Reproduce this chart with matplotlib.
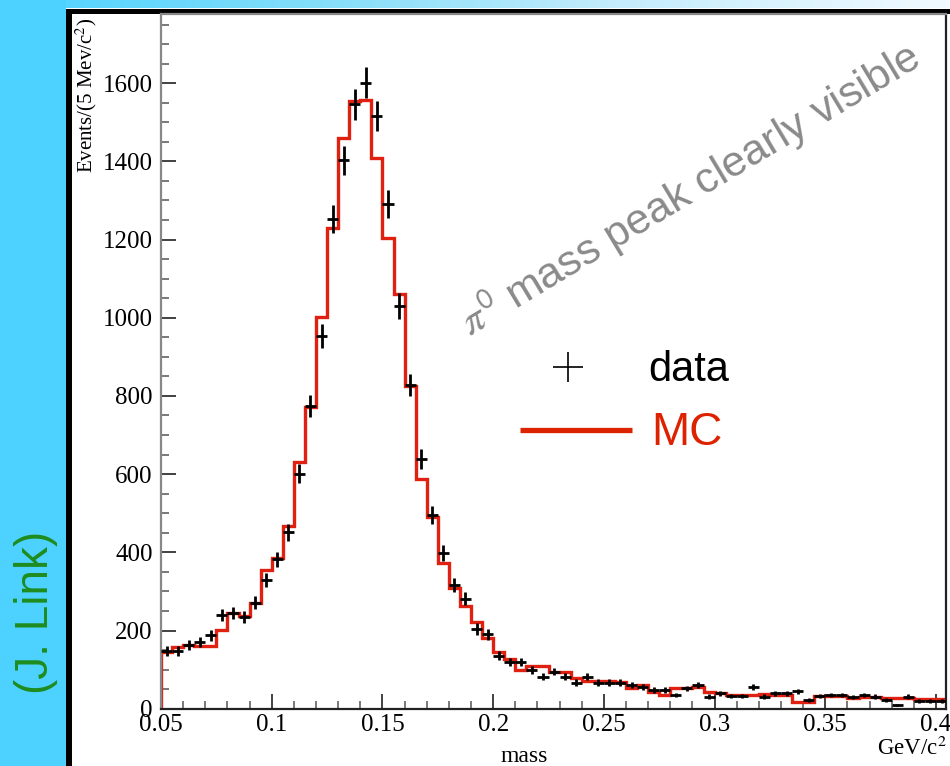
import numpy as np
import matplotlib
matplotlib.use("Agg")
import matplotlib.pyplot as plt
from matplotlib.colors import LinearSegmentedColormap
from matplotlib.patches import Rectangle

# ---------------- data ----------------
bin_lo = 0.05
bin_width = 0.005
mc_counts = [146, 158, 162, 160, 160, 201, 244, 238, 271, 356,
             385, 468, 632, 772, 1001, 1229, 1461, 1554, 1557, 1409,
             1203, 1062, 825, 587, 491, 373, 308, 262, 222, 182,
             145, 126, 100, 109, 109, 95, 95, 78, 72, 72,
             72, 69, 52, 61, 43, 35, 52, 52, 56, 42,
             39, 35, 35, 35, 37, 35, 35, 18, 18, 33,
             33, 33, 28, 31, 31, 28, 28, 28, 26, 26, 26]
data_counts = [148, 148, 163, 171, 188, 240, 244, 234, 271, 329,
               382, 451, 601, 775, 953, 1252, 1403, 1546, 1601, 1516,
               1292, 1030, 828, 638, 495, 399, 316, 281, 204, 190,
               135, 120, 120, 100, 82, 95, 82, 67, 82, 67,
               67, 67, 61, 56, 48, 48, 35, 52, 61, 31,
               39, 33, 33, 55, 31, 39, 39, 44, 22, 33,
               35, 35, 29, 35, 31, 22, 9, 31, 20, 20, 20]
x_ticks = [0.05, 0.1, 0.15, 0.2, 0.25, 0.3, 0.35, 0.4]
x_tick_labels = ["0.05", "0.1", "0.15", "0.2", "0.25", "0.3", "0.35", "0.4"]
y_ticks = [0, 200, 400, 600, 800, 1000, 1200, 1400, 1600]
y_tick_labels = ["0", "200", "400", "600", "800", "1000", "1200", "1400", "1600"]

mc = np.array(mc_counts, dtype=float)
dat = np.array(data_counts, dtype=float)
edges = bin_lo + bin_width * np.arange(len(mc) + 1)
centers = 0.5 * (edges[:-1] + edges[1:])

# ---------------- style ----------------
plt.rcParams["mathtext.fontset"] = "stix"
serif = ["Liberation Serif", "DejaVu Serif"]
sans = ["Liberation Sans", "DejaVu Sans"]

W, H = 950, 766
fig = plt.figure(figsize=(W / 100, H / 100), dpi=100, facecolor="white")

# ---------------- slide background ----------------
bg = fig.add_axes([0, 0, 1, 1], zorder=-10)
bg.set_xlim(0, W)
bg.set_ylim(H, 0)
bg.axis("off")
cmap_top = LinearSegmentedColormap.from_list(
    "top", [(0.0, "#4cd2ff"), (0.35, "#86def9"), (0.65, "#c4ecfc"), (1.0, "#f2faff")])
grad = np.linspace(0, 1, 256)[None, :]
bg.imshow(grad, extent=[0, W, 8.5, 0], cmap=cmap_top, aspect="auto")
bg.add_patch(Rectangle((0, 0), 66, H, color="#4dd2ff", lw=0))
bg.add_patch(Rectangle((65.5, 8.5), 6.5, H, color="black", lw=0))
bg.add_patch(Rectangle((65.5, 8.5), W, 5.5, color="black", lw=0))
bg.text(36, 612, "(J. Link)", rotation=90, ha="center", va="center",
        fontsize=33, color="#1e8c1e", family=sans)

# ---------------- main axes ----------------
ax_l, ax_r, ax_t, ax_b = 161, 946, 14, 708.7
ax = fig.add_axes([ax_l / W, (H - ax_b) / H, (ax_r - ax_l) / W, (ax_b - ax_t) / H])
ax.set_facecolor("white")

ax.stairs(mc, edges, baseline=0, color="#e02010", lw=2.4, zorder=2)
ax.errorbar(centers, dat, yerr=np.sqrt(dat), xerr=bin_width / 2, fmt="none",
            ecolor="black", elinewidth=2.0, capsize=0, zorder=3)

ax.set_xlim(0.05, 0.4045)
ax.set_ylim(0, 1777)
ax.set_xticks(x_ticks)
ax.set_xticklabels(x_tick_labels)
ax.set_yticks(y_ticks)
ax.set_yticklabels(y_tick_labels)
ax.set_xticks(np.arange(0.05, 0.4045, 0.01), minor=True)
ax.set_yticks(np.arange(0, 1777, 50), minor=True)
ax.tick_params(which="major", direction="in", length=11, width=1.3, colors="#333333",
               labelcolor="black", labelsize=18, pad=4)
ax.tick_params(which="minor", direction="in", length=6, width=1.1, colors="#555555")
for lab in ax.get_xticklabels() + ax.get_yticklabels():
    lab.set_family(serif)
ax.tick_params(axis="y", pad=6)

for s in ["left", "top"]:
    ax.spines[s].set_color("#888888")
    ax.spines[s].set_linewidth(1.6)
ax.spines["bottom"].set_color("#222222")
ax.spines["bottom"].set_linewidth(1.6)
ax.spines["right"].set_color("#222222")
ax.spines["right"].set_linewidth(1.6)

# axis titles
fig.text(86 / W, 1 - 18 / H, "Events/(5 Mev/c$^{\\mathrm{2}}$)", rotation=90,
         ha="center", va="top", fontsize=15, family=serif)
fig.text(524 / W, 1 - 757 / H, "mass", ha="center", va="center",
         fontsize=17, family=serif)
fig.text(947 / W, 1 - 748 / H, "GeV/c$^{\\mathrm{2}}$", ha="right", va="center",
         fontsize=16.5, family=serif)

# annotation
fig.text(690 / W, 1 - 190 / H, "$\\pi^{\\mathsf{0}}$ mass peak clearly visible",
         rotation=31, rotation_mode="anchor", ha="center", va="center",
         fontsize=31, color="#8a8a8a", family=sans)

# legend (manual)
lg = fig.add_axes([0, 0, 1, 1], zorder=5)
lg.set_xlim(0, W)
lg.set_ylim(H, 0)
lg.axis("off")
lg.plot([568], [367], marker="+", markersize=22, mew=1.2, color="black", ls="none")
lg.text(648, 370, "data", ha="left", va="center", fontsize=30, family=sans, color="black")
lg.plot([520, 632], [430, 430], color="#dd2200", lw=3.8, solid_capstyle="butt")
lg.text(651, 433, "MC", ha="left", va="center", fontsize=33, family=sans, color="#dd2200")

fig.savefig("out.png", dpi=100, facecolor="white")
